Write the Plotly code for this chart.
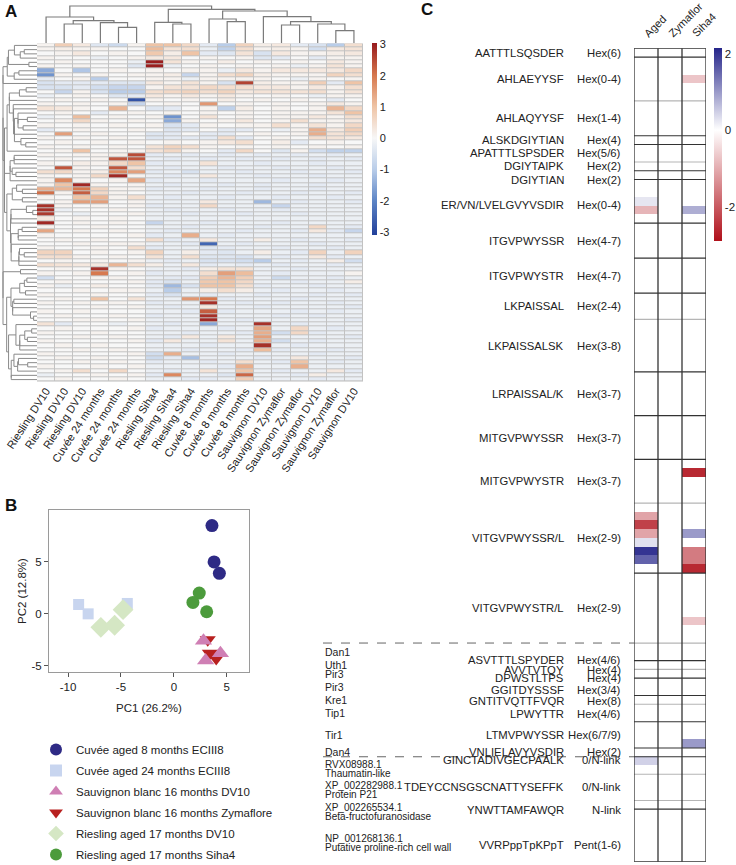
import numpy as np
import plotly.graph_objects as go

W, H = 736, 865
FONT = "Liberation Sans, Arial, sans-serif"
TXT = "#222222"


def fx(p):
    return p / W


def fy(p):
    return 1 - p / H


# ---------------- Panel A data ----------------
col_labels = ["Riesling DV10", "Riesling DV10", "Riesling DV10",
              "Cuvée 24 months", "Cuvée 24 months", "Cuvée 24 months",
              "Riesling Siha4", "Riesling Siha4", "Riesling Siha4",
              "Cuvée 8 months", "Cuvée 8 months", "Cuvée 8 months",
              "Sauvignon DV10", "Sauvignon Zymaflor", "Sauvignon Zymaflor",
              "Sauvignon DV10", "Sauvignon Zymaflor", "Sauvignon DV10"]

heat_A = [
    [0.1, 0.8, 0.3, -0.4, -0.7, 0.1, 1.0, 1.0, 0.6, -0.3, -1.0, 0.7, 0.2, 0.3, -0.3, -0.5, -1.0, 0.5],
    [0.1, 0.2, 0.1, 0.1, 0.0, 0.0, 1.1, 0.4, 0.5, -0.2, -0.9, 0.5, 0.1, 0.2, 0.1, -0.6, 0.3, 0.4],
    [0.0, 0.1, 0.3, 0.0, 0.1, 0.0, 0.9, 0.2, 1.0, -0.3, -0.4, 0.4, -0.5, 0.3, 0.1, 0.1, 0.2, 0.3],
    [0.1, 0.0, 0.0, -0.2, 0.0, 0.1, 0.3, 0.3, 0.0, 0.1, 0.0, 0.1, -0.4, -0.3, 0.0, -0.3, 0.1, 0.1],
    [0.0, 0.1, 0.0, 0.0, 0.0, -0.2, 3.0, 0.4, 0.1, 0.0, 0.2, 0.0, 0.1, 0.0, 0.1, 0.0, 0.3, 0.1],
    [0.1, 0.0, 0.1, 0.0, 0.0, -0.4, 3.0, -0.2, 0.0, 0.1, 0.0, 0.1, 0.0, 0.1, -0.2, 0.1, 0.4, 0.1],
    [-1.5, 0.0, -1.1, 0.0, 0.1, 0.0, 0.1, 0.0, 0.1, 0.1, -0.2, 0.3, 0.1, 0.3, 0.3, 0.3, 0.3, 0.6],
    [-1.8, 0.1, 0.0, 0.1, 0.0, 0.1, 0.1, 0.2, -0.8, 0.1, 0.5, 0.7, 0.2, 0.1, 0.1, 0.1, 0.7, 0.5],
    [-0.3, 0.0, 0.1, -1.0, 0.0, 0.0, 0.1, 0.1, -0.2, 0.1, 0.1, 0.1, 0.1, 0.0, -0.2, 0.1, 0.0, 0.1],
    [-0.5, -0.3, -0.3, -0.3, -0.4, -0.4, 0.3, 0.1, 0.4, 0.1, -0.5, 2.6, 0.2, 0.1, 0.1, 0.8, -0.3, 1.0],
    [-0.5, -0.5, -0.3, -0.6, -0.8, -0.8, 0.1, 0.4, 0.4, 0.6, 0.5, 0.5, 0.3, 0.3, 0.1, 0.3, 0.1, 0.5],
    [0.0, -0.8, 0.1, -0.5, -1.0, -1.0, 0.5, 0.6, 0.7, 0.5, 0.7, 0.3, 0.4, 0.4, 0.4, 0.5, 0.1, 0.4],
    [-0.2, 0.0, 0.1, 0.0, -0.4, -0.3, 0.3, 0.1, 0.3, 0.1, 0.3, 0.1, 0.0, 0.1, 0.0, -0.2, 0.1, 0.1],
    [0.0, 0.1, 0.0, 0.1, 0.0, -2.8, 0.1, 0.0, 0.1, 0.0, 0.2, 0.0, 0.1, 0.0, 0.1, 0.0, -0.3, 0.0],
    [0.1, 0.0, 0.1, 0.0, 0.1, -0.8, 0.0, 0.1, 0.0, 1.6, 0.0, 0.1, 0.0, 0.1, 0.0, 0.1, 0.3, 0.1],
    [0.4, 0.3, 0.1, 0.0, 1.2, 0.0, -0.4, -0.3, 0.0, 0.1, -0.9, 0.2, 0.0, 0.1, 0.0, 0.1, 1.2, 0.6],
    [0.0, 0.1, 0.0, -0.3, 0.0, 0.1, 0.0, 0.1, 0.0, 0.1, 0.0, 0.1, 0.0, 0.1, 0.1, 0.1, 0.4, 1.0],
    [-0.2, 0.0, 1.1, 0.0, 0.1, 0.0, 0.1, -1.8, 0.0, 0.4, 0.0, 0.1, 0.0, 0.1, 0.1, 0.3, 0.1, 0.5],
    [0.0, 0.1, 0.6, 0.1, 0.0, 0.1, 0.0, -1.5, 0.1, 0.0, 0.1, 0.3, 0.0, 0.1, 0.5, 0.1, 0.1, 0.3],
    [0.1, 0.0, 0.1, 0.0, 0.1, 0.0, 0.1, -0.5, -0.3, 0.1, 0.0, 0.1, 0.1, 0.5, 0.1, 0.4, 0.1, 0.6],
    [-0.3, 0.0, 0.1, 0.0, 0.0, 0.1, 0.0, -0.4, -0.3, 0.0, -0.3, -0.3, 0.0, -0.2, 0.1, 1.3, 0.3, 0.8],
    [0.0, 1.5, 0.0, 0.1, 0.0, 0.0, -0.4, -0.3, 0.0, -0.3, -0.3, 0.0, 0.1, 0.0, 0.1, 1.3, 0.4, 0.6],
    [0.1, 0.0, 0.1, 0.0, 0.1, 0.0, -0.4, -0.3, -0.3, -0.3, 0.5, -0.3, 0.0, 0.1, 0.0, 0.5, 0.4, 0.3],
    [0.0, 0.1, 0.0, 0.1, 0.0, 0.1, 0.0, 0.1, 0.0, 0.1, 0.3, 0.5, 0.0, 0.2, -0.3, 0.0, 0.1, 0.0],
    [0.1, 0.0, 0.1, 0.0, 0.1, 0.0, 0.4, 0.7, 0.5, 0.1, 0.0, 0.1, 0.0, 0.1, 0.0, 0.1, 0.0, 0.1],
    [0.0, 0.1, 1.0, 0.0, 0.1, 0.1, 0.4, 0.6, 0.1, 0.0, -0.3, 0.6, 0.0, -0.4, 0.1, -0.6, -0.9, -0.9],
    [0.1, 0.0, 0.1, 0.1, 0.2, 2.5, -0.3, -0.2, -0.3, -0.2, -0.3, -0.2, -0.3, -0.2, -0.3, -0.2, -0.3, -0.2],
    [0.0, 0.1, 0.0, 0.1, 2.4, 2.4, -0.2, -0.3, -0.2, -0.3, -0.2, -0.3, -0.2, -0.3, -0.2, -0.3, -0.2, -0.3],
    [0.1, 0.0, 0.2, 0.1, 0.6, 1.0, -0.3, -0.2, -0.2, 0.4, -0.2, -0.2, -0.3, -0.2, -0.2, -0.3, -0.2, -0.2],
    [0.0, 2.4, 0.1, 0.0, 2.4, 0.5, -0.2, -0.3, -0.2, -0.2, -0.3, -0.2, -0.2, -0.3, -0.2, -0.2, -0.3, -0.2],
    [0.5, 0.6, 0.1, 0.2, 1.8, 1.5, -0.3, -0.2, -0.5, -0.2, -0.2, -0.3, -0.2, -0.2, -0.3, -0.2, -0.2, -0.3],
    [0.1, 0.0, 0.1, 0.6, 2.9, 0.1, -0.2, -0.3, -0.2, 0.3, -0.2, -0.2, -0.3, -0.2, -0.2, -0.3, -0.2, -0.2],
    [0.1, 1.8, 0.1, 0.0, 0.1, 1.4, -0.3, -0.2, -0.2, -0.3, -0.2, -0.2, -0.2, -0.3, -0.2, -0.2, -0.3, -0.2],
    [0.1, 1.0, 2.9, 0.1, 0.0, 0.1, -0.2, -0.3, -0.2, -0.2, -0.3, -0.2, -0.3, -0.2, -0.2, -0.3, -0.2, -0.2],
    [1.3, 1.2, 2.0, 0.7, 0.1, 0.1, -0.3, -0.2, -0.2, -0.3, -0.2, -0.2, -0.3, -0.2, -0.2, -0.3, -0.2, -0.2],
    [2.1, 0.1, 2.3, 0.6, 0.1, 0.0, -0.2, -0.2, -0.3, -0.2, -0.2, -0.3, -0.2, -0.2, -0.3, -0.2, -0.2, -0.3],
    [0.1, 0.0, 1.0, 1.2, 0.1, 0.5, -0.2, -0.3, -0.2, -0.2, -0.3, -0.2, -0.2, -0.3, -0.2, -0.2, -0.3, -0.2],
    [0.0, 0.1, 1.5, 1.5, 0.0, 0.1, -0.2, -0.2, -0.2, 0.3, -0.2, -0.2, -1.3, -0.2, -0.3, -0.2, -0.2, -0.3],
    [2.8, 0.1, 0.0, 0.1, 0.0, 0.1, -0.3, -0.2, -0.2, 0.6, -0.2, -0.2, -0.2, -0.8, -0.2, -0.2, -0.2, -0.2],
    [2.8, -0.2, 0.0, 0.0, 0.1, 0.0, -0.2, -0.3, -0.2, -0.2, -0.3, -0.2, -0.2, -0.3, -0.2, -0.2, -0.2, -0.2],
    [2.7, 0.0, -0.2, 0.0, 0.0, 0.1, -0.2, -0.2, -0.3, -0.2, -0.2, -0.3, -0.2, -0.2, -0.3, -0.2, -0.2, -0.2],
    [0.3, 0.0, 0.1, 0.0, 0.1, 0.0, -0.2, -0.2, -0.2, -0.2, -0.2, -0.2, -0.2, -0.2, -0.2, -0.2, -0.2, -0.2],
    [2.9, 0.0, 0.1, 0.0, 0.1, 0.0, -0.8, -0.2, -0.2, -0.3, -0.2, -0.2, -0.2, -0.3, -0.2, -0.2, -0.2, -0.2],
    [0.1, 0.0, 0.0, 0.1, 0.0, 0.0, -0.2, -0.2, -0.3, -0.2, -0.2, -0.2, -0.3, -0.2, -0.2, 0.6, -0.2, -0.3],
    [1.4, 0.0, 0.1, 0.0, 0.1, 0.0, -0.2, -0.3, -0.2, -0.2, -0.2, -0.3, -0.2, -0.2, -0.3, 0.3, -0.3, -0.8],
    [0.1, 0.0, 0.0, 0.0, 0.0, 0.1, -0.3, -0.2, 1.3, -0.2, -0.3, -0.2, -0.2, -0.2, -0.2, -0.2, -0.2, -0.2],
    [0.0, 0.1, 0.0, 0.1, 0.0, 0.0, 0.5, -0.3, -0.2, 0.3, -0.2, -0.2, 0.2, -0.2, -0.3, -0.2, -0.2, -0.3],
    [0.0, 0.0, 0.1, 0.0, 0.1, 0.1, -0.2, -0.2, -0.3, -2.5, -0.2, -0.3, -0.2, -0.2, -0.2, -0.3, -0.2, -0.2],
    [0.1, 0.0, 0.0, 0.1, 0.0, 0.5, -0.3, -0.2, -0.2, -0.4, -0.3, -0.2, -0.2, -0.3, -0.2, -0.2, -0.3, -0.2],
    [0.7, 0.7, 0.0, 0.1, 0.0, 0.1, 0.7, -0.2, 0.2, -0.3, -0.4, -0.2, 0.2, -0.2, -0.3, 0.7, -0.2, 0.7],
    [0.5, 0.5, 0.1, 0.0, 0.1, 0.0, 0.4, -0.2, 0.5, -0.4, -0.4, -0.5, -0.2, -0.3, -0.2, 0.3, -0.3, -0.2],
    [0.0, 0.1, 0.0, 0.1, 0.0, 0.1, -0.2, -0.3, -0.2, -0.5, -0.5, -0.6, -1.0, -0.2, -0.3, -0.2, 0.2, -0.6],
    [0.5, 0.4, 0.3, 0.3, 1.2, 0.5, 0.2, -0.2, 0.3, -0.3, -0.2, -0.3, -0.2, -0.3, -0.2, -0.2, -0.3, -0.2],
    [0.0, 0.1, 0.0, 2.8, 0.1, 0.0, -0.2, -0.2, -0.3, 0.2, 0.4, 0.4, -0.2, -0.2, -0.3, -0.2, -0.2, -0.2],
    [0.1, 0.0, 0.1, 2.0, 0.0, 0.1, -0.3, -0.2, -0.2, 0.5, 1.5, 1.1, -0.2, -0.3, -0.2, -0.2, -0.2, 0.1],
    [-0.6, 0.0, 0.0, 0.1, 0.1, 0.0, -0.2, -0.3, -0.3, 0.8, 1.2, 0.8, -0.2, -0.7, -0.2, -0.2, -0.3, -0.2],
    [0.0, 0.1, 0.0, 0.0, 0.0, 0.1, -0.3, -0.5, -0.2, 0.9, 1.0, 0.6, -0.2, -0.2, -0.3, -0.2, -0.2, 0.2],
    [0.1, -0.2, 0.0, 0.2, 0.0, 0.0, -0.3, -1.3, -0.5, 1.0, 1.0, 0.5, -0.3, -0.2, -0.2, -0.3, -0.2, -0.2],
    [0.0, 0.0, 0.1, 0.0, 0.1, 0.1, -0.2, -1.0, -0.2, 0.2, 0.5, 0.2, -0.2, -0.3, -0.2, -0.2, -0.3, -0.2],
    [0.1, 0.0, 0.0, 0.1, 0.0, 0.0, -0.3, -0.5, -0.2, -0.3, -0.2, -0.2, -0.3, -0.2, -0.2, -0.3, -0.2, -0.3],
    [0.0, 0.1, 0.0, 1.0, 0.0, 0.4, -0.2, -0.2, 1.6, 2.0, -0.3, -0.2, -0.2, -0.2, -0.3, -0.2, -0.2, -0.2],
    [0.1, 0.0, 0.1, 0.0, 0.1, 0.0, -0.3, -0.2, -0.2, 2.8, -0.2, -0.3, -0.2, -0.3, -0.2, -0.2, -0.3, -0.2],
    [0.0, 0.0, 0.0, 0.1, 0.0, 0.1, -0.2, -0.3, -0.2, 0.3, -0.2, -0.2, -0.3, -0.2, -0.2, -0.2, -0.2, -0.3],
    [0.1, 0.0, 0.1, 0.0, 0.0, 0.0, -0.2, -0.2, -0.3, 2.3, -0.3, -0.2, -0.2, -0.2, -0.3, -0.2, -0.3, -0.2],
    [0.0, 0.1, 0.0, 0.0, 0.1, 0.0, -0.3, -0.2, -0.2, 2.8, -0.2, -0.2, -0.2, -0.3, -0.2, -0.3, -0.2, -0.2],
    [0.0, 0.0, 0.1, 0.1, 0.0, 0.1, -0.2, -0.2, -0.2, 2.9, -0.2, -0.3, -0.2, -0.2, -0.2, -0.2, -0.2, -0.3],
    [0.4, -0.3, 0.0, 0.0, -0.2, 0.0, -0.2, -0.3, -0.2, -1.5, -0.2, -0.2, 2.8, -0.2, -0.3, -0.2, -0.2, -0.2],
    [0.0, 0.1, 0.0, 0.0, 0.0, 0.1, -0.3, -0.2, -0.2, -0.2, -0.3, -0.2, 1.4, -0.2, 0.6, -0.2, -0.3, -0.2],
    [0.1, 0.0, 0.0, 0.1, 0.0, 0.0, -0.2, -0.2, -0.3, -0.2, -0.2, -0.3, 1.3, -0.6, 0.6, -0.3, -0.2, -0.2],
    [0.0, 0.0, 0.1, 0.0, 0.1, 0.0, -0.2, -0.3, 0.3, -0.2, 0.3, -0.2, 1.5, -0.2, -0.2, -0.2, -0.2, -0.3],
    [0.1, 0.0, 0.0, 0.0, 0.0, 0.1, -0.3, 0.3, -0.2, -0.2, 0.4, -0.2, 1.3, -0.6, -0.2, -0.3, -0.2, -0.2],
    [0.0, 0.1, 0.0, 0.1, 0.0, 0.0, -0.2, -0.2, -0.2, -0.3, -0.2, -0.2, 2.8, -0.2, -0.3, -0.2, -0.2, -0.2],
    [0.0, 0.0, 0.1, 0.0, 0.1, 0.0, -0.2, -0.2, -0.3, -0.2, -0.2, -0.3, 1.1, -0.3, -0.2, -0.2, -0.3, -0.2],
    [0.1, 0.0, 0.0, 0.0, 0.0, 0.1, -0.6, 1.3, -0.2, -0.2, -0.3, -0.2, -0.2, -0.2, -0.2, -0.3, -0.2, -0.2],
    [0.0, 0.1, 0.0, 0.1, 0.0, 0.0, -0.7, -0.3, -1.2, -0.2, -0.2, -0.2, -0.3, -0.2, 0.3, -0.2, -0.2, -0.3],
    [0.0, 0.0, 0.1, 0.0, 0.1, 0.0, -0.3, -0.2, -0.2, -0.3, -0.2, 0.5, -0.2, -0.3, 1.0, -0.2, -0.3, -0.2],
    [0.1, 0.0, 0.0, 0.1, 0.0, 0.1, -0.2, -0.2, -0.2, -0.2, -0.3, 1.3, -0.2, -0.2, 1.3, -0.2, -0.2, -0.2],
    [0.0, 0.1, 0.5, 0.0, 0.6, 0.0, -0.2, -0.3, -0.2, 0.4, -0.2, 1.0, -0.2, -0.3, -0.2, -0.2, 0.3, -0.3],
    [-0.2, 0.0, 0.0, 0.1, 0.0, 0.1, -0.3, 1.8, -0.2, -0.2, -0.4, 2.2, -0.2, -0.2, -0.3, 0.2, -0.2, -0.2],
    [0.0, 0.1, 0.0, 0.0, 0.1, 0.0, -0.2, -0.2, -0.3, -0.3, -0.2, 0.8, -0.2, -0.2, -0.2, -0.3, -0.2, -0.2],
]

# column dendrogram: [left, right, merge height]
col_tree = [[0, [[1, 2, 19.0], [3, [4, 5, 15.7], 20.3], 22.3], 26.0],
            [[6, [7, 8, 19.0], 20.7],
             [[9, [10, 11, 21.3], 24.0],
              [12, [[13, 14, 18.0], [15, [16, 17, 12.3], 19.0], 21.3], 26.3], 32.0], 33.7], 37.0]
heat_A_ticks = [-3, -2, -1, 0, 1, 2, 3]

# ---------------- Panel B data ----------------
pca_names = ["Cuvée aged 8 months ECIII8", "Cuvée aged 24 months ECIII8",
             "Sauvignon blanc 16 months DV10", "Sauvignon blanc 16 months Zymaflore",
             "Riesling aged 17 months DV10", "Riesling aged 17 months Siha4"]
pc1_cuvee8 = [3.6, 3.8, 4.3]
pc2_cuvee8 = [8.5, 5.0, 3.9]
pc1_cuvee24 = [-9.0, -8.1, -4.4]
pc2_cuvee24 = [0.9, 0.0, 1.0]
pc1_sauv_dv10 = [2.8, 3.0, 4.4]
pc2_sauv_dv10 = [-2.6, -4.5, -3.8]
pc1_sauv_zyma = [3.2, 3.4, 4.0]
pc2_sauv_zyma = [-2.5, -3.8, -4.3]
pc1_ries_dv10 = [-6.9, -5.6, -4.8]
pc2_ries_dv10 = [-1.3, -1.1, 0.4]
pc1_ries_siha4 = [2.4, 1.8, 3.1]
pc2_ries_siha4 = [2.0, 1.1, 0.2]
pc1_ticks = [-10, -5, 0, 5]
pc2_ticks = [-5, 0, 5]

# ---------------- Panel C data ----------------
glyco_columns = ["Aged", "Zymaflor", "Siha4"]
peptides = ["AATTTLSQSDER", "AHLAEYYSF", "AHLAQYYSF", "ALSKDGIYTIAN", "APATTTLSPSDER",
            "DGIYTAIPK", "DGIYTIAN", "ER/VN/LVELGVYVSDIR", "ITGVPWYSSR", "ITGVPWYSTR",
            "LKPAISSAL", "LKPAISSALSK", "LRPAISSAL/K", "MITGVPWYSSR", "MITGVPWYSTR",
            "VITGVPWYSSR/L", "VITGVPWYSTR/L",
            "ASVTTTLSPYDER", "AVVTVTQY", "DPWSTLTPS", "GGITDYSSSF", "GNTITVQTTFVQR",
            "LPWYTTR", "LTMVPWYSSR", "VNLIELAVYVSDIR",
            "GINCTADIVGECPAALK", "TDEYCCNSGSCNATTYSEFFK", "YNWTTAMFAWQR", "VVRPppTpKPpT"]
modifications = ["Hex(6)", "Hex(0-4)", "Hex(1-4)", "Hex(4)", "Hex(5/6)", "Hex(2)", "Hex(2)",
                 "Hex(0-4)", "Hex(4-7)", "Hex(4-7)", "Hex(2-4)", "Hex(3-8)", "Hex(3-7)",
                 "Hex(3-7)", "Hex(3-7)", "Hex(2-9)", "Hex(2-9)",
                 "Hex(4/6)", "Hex(4)", "Hex(4)", "Hex(3/4)", "Hex(8)", "Hex(4/6)",
                 "Hex(6/7/9)", "Hex(2)", "0/N-link", "0/N-link", "N-link", "Pent(1-6)"]
glycoform_counts = [1, 5, 4, 1, 2, 1, 1, 5, 4, 4, 3, 6, 5, 5, 5, 8, 8,
                    2, 1, 1, 2, 1, 2, 3, 1, 2, 3, 1, 6]
yeast_genes = ["Dan1", "Uth1", "Pir3", "Pir3", "Kre1", "Tip1", "Tir1", "Dan4"]
grape_ids = ["RVX08988.1", "XP_002282988.1", "XP_002265534.1", "NP_001268136.1"]
grape_names = ["Thaumatin-like", "Protein P21", "Beta-fructofuranosidase",
               "Putative proline-rich cell wall"]
cell_row = [3, 17, 18, 18, 48, 53, 54, 55, 56, 57, 58, 55, 57, 58, 59, 65, 79, 81]
cell_col = [2, 0, 0, 2, 2, 0, 0, 0, 0, 0, 0, 2, 2, 2, 2, 2, 2, 0]
cell_val = [-0.7, 0.25, -0.9, 0.8, -2.6, -1.1, -2.3, -1.1, 0.3, 2.0, 1.55, 1.0, -1.6, -1.6,
            -2.6, -0.7, 1.0, 0.45]
glyco_ticks = [-2, 0, 2]

# ---------------- styling (not data) ----------------
light_after = [1, 4, 10, 14, 16, 18, 21, 25, 26]      # boundaries drawn in light grey
dashed_after = [16, 24]                                # dashed separators between blocks
label_nudge = {6: 5, 7: 4, 17: 8, 18: 5.5, 19: 4, 20: 3, 21: 1, 22: 1,
               25: -5, 27: 5, 28: 10}                  # px, downward
grape_nudge = [-1, -2, 3, 3]                           # px, first line of grape labels


def minus(v):
    return str(v).replace("\u2212", "-")


# ---------------- Build figure ----------------
fig = go.Figure()

csA = [[0.0, "#22409a"], [0.179, "#5d85c6"], [0.341, "#b9cde9"], [0.504, "#f7f7f7"],
       [0.667, "#efc4a6"], [0.829, "#d7794f"], [1.0, "#971a1d"]]
nA_rows = len(heat_A)
nA_cols = len(col_labels)

fig.add_trace(go.Heatmap(
    z=heat_A, x=list(range(nA_cols)), y=list(range(nA_rows)),
    colorscale=csA, zmin=-3.1, zmax=3.05, xgap=1, ygap=1,
    xaxis="x", yaxis="y", hoverinfo="skip",
    colorbar=dict(x=fx(372), xanchor="left", y=fy(43), yanchor="top",
                  len=192 / H, lenmode="fraction", thickness=5, thicknessmode="pixels",
                  xpad=0, ypad=0, outlinewidth=0, tickvals=heat_A_ticks,
                  ticktext=[minus(v) for v in heat_A_ticks],
                  ticks="", tickfont=dict(size=11, color=TXT, family=FONT))))

# top dendrogram
dx, dy = [], []


def walk(node):
    if isinstance(node, int):
        return float(node), 0.0
    lp, lh = walk(node[0])
    rp, rh = walk(node[1])
    h = node[2]
    dx.extend([lp, lp, rp, rp, None])
    dy.extend([lh, h, h, rh, None])
    return (lp + rp) / 2, h


walk(col_tree)
fig.add_trace(go.Scatter(x=dx, y=dy, mode="lines", line=dict(color="#7a7a7a", width=1.2),
                         xaxis="x2", yaxis="y2", hoverinfo="skip", showlegend=False))

# row dendrogram (order-preserving average linkage on the heatmap rows)
Z = np.array(heat_A)
clusters = [(i, i, float(i), 0.0) for i in range(nA_rows)]
rx, ry = [], []
while len(clusters) > 1:
    best_d, best_i = None, None
    for i in range(len(clusters) - 1):
        a, b = clusters[i], clusters[i + 1]
        A = Z[a[0]:a[1] + 1]
        B = Z[b[0]:b[1] + 1]
        d = np.sqrt(((A[:, None, :] - B[None, :, :]) ** 2).sum(-1)).mean()
        if best_d is None or d < best_d:
            best_d, best_i = d, i
    a, b = clusters[best_i], clusters[best_i + 1]
    h = max(best_d, a[3], b[3])
    rx.extend([a[3], h, h, b[3], None])
    ry.extend([a[2], a[2], b[2], b[2], None])
    clusters[best_i:best_i + 2] = [(a[0], b[1], (a[2] + b[2]) / 2, h)]
root_h = clusters[0][3]
fig.add_trace(go.Scatter(x=rx, y=ry, mode="lines", line=dict(color="#8a8a8a", width=1),
                         xaxis="x3", yaxis="y3", hoverinfo="skip", showlegend=False))

# ---------------- Panel C heatmap ----------------
nC = sum(glycoform_counts)
zC = [[None] * len(glyco_columns) for _ in range(nC)]
for r, c, v in zip(cell_row, cell_col, cell_val):
    zC[r][c] = v
zminC, zmaxC = -2.9, 2.15
csC = [[0.0, "#b0101a"], [-zminC / (zmaxC - zminC), "#ffffff"], [1.0, "#25258a"]]
fig.add_trace(go.Heatmap(
    z=zC, x=list(range(len(glyco_columns))), y=list(range(nC)),
    colorscale=csC, zmin=zminC, zmax=zmaxC, xaxis="x4", yaxis="y4", hoverinfo="skip",
    colorbar=dict(x=fx(714), xanchor="left", y=fy(48), yanchor="top",
                  len=193 / H, lenmode="fraction", thickness=8, thicknessmode="pixels",
                  xpad=0, ypad=0, outlinewidth=0, tickvals=glyco_ticks,
                  ticktext=[minus(v) for v in glyco_ticks], ticks="",
                  tickfont=dict(size=11.5, color=TXT, family=FONT))))

# ---------------- Panel B scatter ----------------
pca_sets = [
    (pc1_cuvee8, pc2_cuvee8, 0, "circle", "#2e2a85", 13),
    (pc1_cuvee24, pc2_cuvee24, 1, "square", "#c8d5ef", 11),
    (pc1_ries_dv10, pc2_ries_dv10, 4, "diamond", "#d5e7c4", 16),
    (pc1_ries_siha4, pc2_ries_siha4, 5, "circle", "#4c9b3c", 13),
    (pc1_sauv_zyma, pc2_sauv_zyma, 3, "triangle-down", "#b8201f", 14),
    (pc1_sauv_dv10, pc2_sauv_dv10, 2, "triangle-up", "#cf7fb4", 15),
]
for xs, ys, k, sym, colr, sz in pca_sets:
    fig.add_trace(go.Scatter(x=xs, y=ys, mode="markers", name=pca_names[k],
                             legendrank=k + 1, legendgroup="g%d" % k,
                             marker=dict(symbol=sym, color=colr, size=sz, line=dict(width=0)),
                             xaxis="x5", yaxis="y5", hoverinfo="skip"))

# ---------------- shapes ----------------
shapes = [dict(type="rect", xref="x", yref="y", x0=-0.5, x1=nA_cols - 0.5, y0=-0.5,
               y1=nA_rows - 0.5, fillcolor="#c2c2c2", line=dict(width=0), layer="below")]
bounds = np.cumsum(glycoform_counts)
starts = bounds - np.array(glycoform_counts)
shapes.append(dict(type="line", xref="x4", yref="y4", x0=-0.5, x1=2.5, y0=-0.5, y1=-0.5,
                   line=dict(color="#333333", width=1.2)))
for gi, b in enumerate(bounds):
    colr = "#b5b5b5" if gi in light_after else "#333333"
    shapes.append(dict(type="line", xref="x4", yref="y4", x0=-0.5, x1=2.5,
                       y0=b - 0.5, y1=b - 0.5, line=dict(color=colr, width=1.2)))
for cx in [-0.5, 0.5, 1.5, 2.5]:
    shapes.append(dict(type="line", xref="x4", yref="y4", x0=cx, x1=cx, y0=-0.5,
                       y1=nC - 0.5, line=dict(color="#333333", width=1.3)))
for gi in dashed_after:
    yb = bounds[gi] - 0.5
    shapes.append(dict(type="line", xref="paper", yref="y4", x0=fx(323), x1=fx(634),
                       y0=yb, y1=yb, line=dict(color="#666666", width=1, dash="dash")))

# ---------------- annotations ----------------
ann = []
for t, xp, yp in [("A", 3, 12), ("B", 3, 505), ("C", 419, 10)]:
    ann.append(dict(text="<b>%s</b>" % t, x=fx(xp), y=fy(yp), xref="paper", yref="paper",
                    xanchor="left", yanchor="middle", showarrow=False,
                    font=dict(size=17, color="#111111", family=FONT)))
for ci, lab in enumerate(glyco_columns):
    ann.append(dict(text=lab, x=ci - 0.3, y=fy(42), xref="x4", yref="paper",
                    xanchor="left", yanchor="bottom", textangle=-45, showarrow=False,
                    font=dict(size=11, color=TXT, family=FONT)))
for gi, (pep, mod) in enumerate(zip(peptides, modifications)):
    yc = starts[gi] + glycoform_counts[gi] / 2 - 0.5
    nud = -label_nudge.get(gi, 0)
    ann.append(dict(text=pep, x=fx(566), y=yc, xref="paper", yref="y4", xanchor="right",
                    yanchor="middle", yshift=nud, showarrow=False,
                    font=dict(size=11.3, color=TXT, family=FONT)))
    ann.append(dict(text=mod, x=fx(623), y=yc, xref="paper", yref="y4", xanchor="right",
                    yanchor="middle", yshift=nud, showarrow=False,
                    font=dict(size=11.3, color=TXT, family=FONT)))
first_yeast = 17
for k, g in enumerate(yeast_genes):
    gi = first_yeast + k
    yc = starts[gi] + glycoform_counts[gi] / 2 - 0.5
    ann.append(dict(text=g, x=fx(323), y=yc, xref="paper", yref="y4", xanchor="left",
                    yanchor="middle", showarrow=False,
                    font=dict(size=10.5, color=TXT, family=FONT)))
first_grape = 25
for k, (pid, pname) in enumerate(zip(grape_ids, grape_names)):
    gi = first_grape + k
    yc = starts[gi] + glycoform_counts[gi] / 2 - 0.5
    ann.append(dict(text=pid, x=fx(323), y=yc, xref="paper", yref="y4", xanchor="left",
                    yanchor="middle", yshift=-grape_nudge[k], showarrow=False,
                    font=dict(size=10, color=TXT, family=FONT)))
    ann.append(dict(text=pname, x=fx(323), y=yc, xref="paper", yref="y4", xanchor="left",
                    yanchor="middle", yshift=-grape_nudge[k] - 9, showarrow=False,
                    font=dict(size=10, color=TXT, family=FONT)))
ann.append(dict(text="PC1 (26.2%)", x=fx(149), y=fy(708), xref="paper", yref="paper",
                xanchor="center", yanchor="middle",
                showarrow=False, font=dict(size=11.5, color=TXT, family=FONT)))
ann.append(dict(text="PC2 (12.8%)", x=fx(22), y=fy(591), xref="paper", yref="paper",
                xanchor="center", yanchor="middle",
                textangle=-90, showarrow=False, font=dict(size=11.5, color=TXT, family=FONT)))

hidden = dict(showgrid=False, zeroline=False, showline=False, showticklabels=False, ticks="")

fig.update_layout(
    template="none", width=W, height=H,
    margin=dict(l=0, r=0, t=0, b=0, pad=0, autoexpand=False),
    paper_bgcolor="white", plot_bgcolor="white", hovermode=False,
    font=dict(family=FONT, color=TXT, size=11.5),
    shapes=shapes, annotations=ann,
    xaxis=dict(domain=[fx(37), fx(363)], range=[-0.5, nA_cols - 0.5], anchor="y",
               showgrid=False, zeroline=False, showline=False, ticks="",
               tickvals=list(range(nA_cols)), ticktext=col_labels, tickangle=-57,
               tickfont=dict(size=11, color=TXT, family=FONT)),
    yaxis=dict(domain=[fy(381.7), fy(43.3)], range=[nA_rows - 0.5, -0.5], anchor="x", **hidden),
    xaxis2=dict(domain=[fx(37), fx(363)], range=[-0.5, nA_cols - 0.5], anchor="y2", **hidden),
    yaxis2=dict(domain=[fy(43), fy(4)], range=[0, 39], anchor="x2", **hidden),
    xaxis3=dict(domain=[0, fx(37)], range=[root_h * 37 / 34, 0], anchor="y3", **hidden),
    yaxis3=dict(domain=[fy(381.7), fy(43.3)], range=[nA_rows - 0.5, -0.5], anchor="x3", **hidden),
    xaxis4=dict(domain=[fx(634), fx(706)], range=[-0.5, 2.5], anchor="y4", **hidden),
    yaxis4=dict(domain=[fy(861.7), fy(48.3)], range=[nC - 0.5, -0.5], anchor="x4", **hidden),
    xaxis5=dict(domain=[fx(49), fx(249)], range=[-11.8, 7.1], anchor="y5",
                showgrid=False, zeroline=False, showline=True, mirror=True,
                linecolor="#9a9a9a", linewidth=1, ticks="outside", ticklen=4,
                tickcolor="#555555", tickvals=pc1_ticks, ticktext=[minus(v) for v in pc1_ticks],
                tickfont=dict(size=11.5, color=TXT, family=FONT)),
    yaxis5=dict(domain=[fy(672), fy(510)], range=[-5.6, 10.0], anchor="x5",
                showgrid=False, zeroline=False, showline=True, mirror=True,
                linecolor="#9a9a9a", linewidth=1, ticks="outside", ticklen=4,
                tickcolor="#555555", tickvals=pc2_ticks, ticktext=[minus(v) for v in pc2_ticks],
                tickfont=dict(size=11.5, color=TXT, family=FONT)),
    showlegend=True,
    legend=dict(x=fx(36), y=fy(735), xanchor="left", yanchor="top", bgcolor="rgba(0,0,0,0)",
                font=dict(size=11.5, color=TXT, family=FONT), itemsizing="constant",
                tracegroupgap=2, borderwidth=0),
)

fig.write_html("out.html", include_plotlyjs=True, config={"displayModeBar": False},
               post_script="document.body.style.margin='0px';"
                           "document.body.style.overflow='hidden';")
